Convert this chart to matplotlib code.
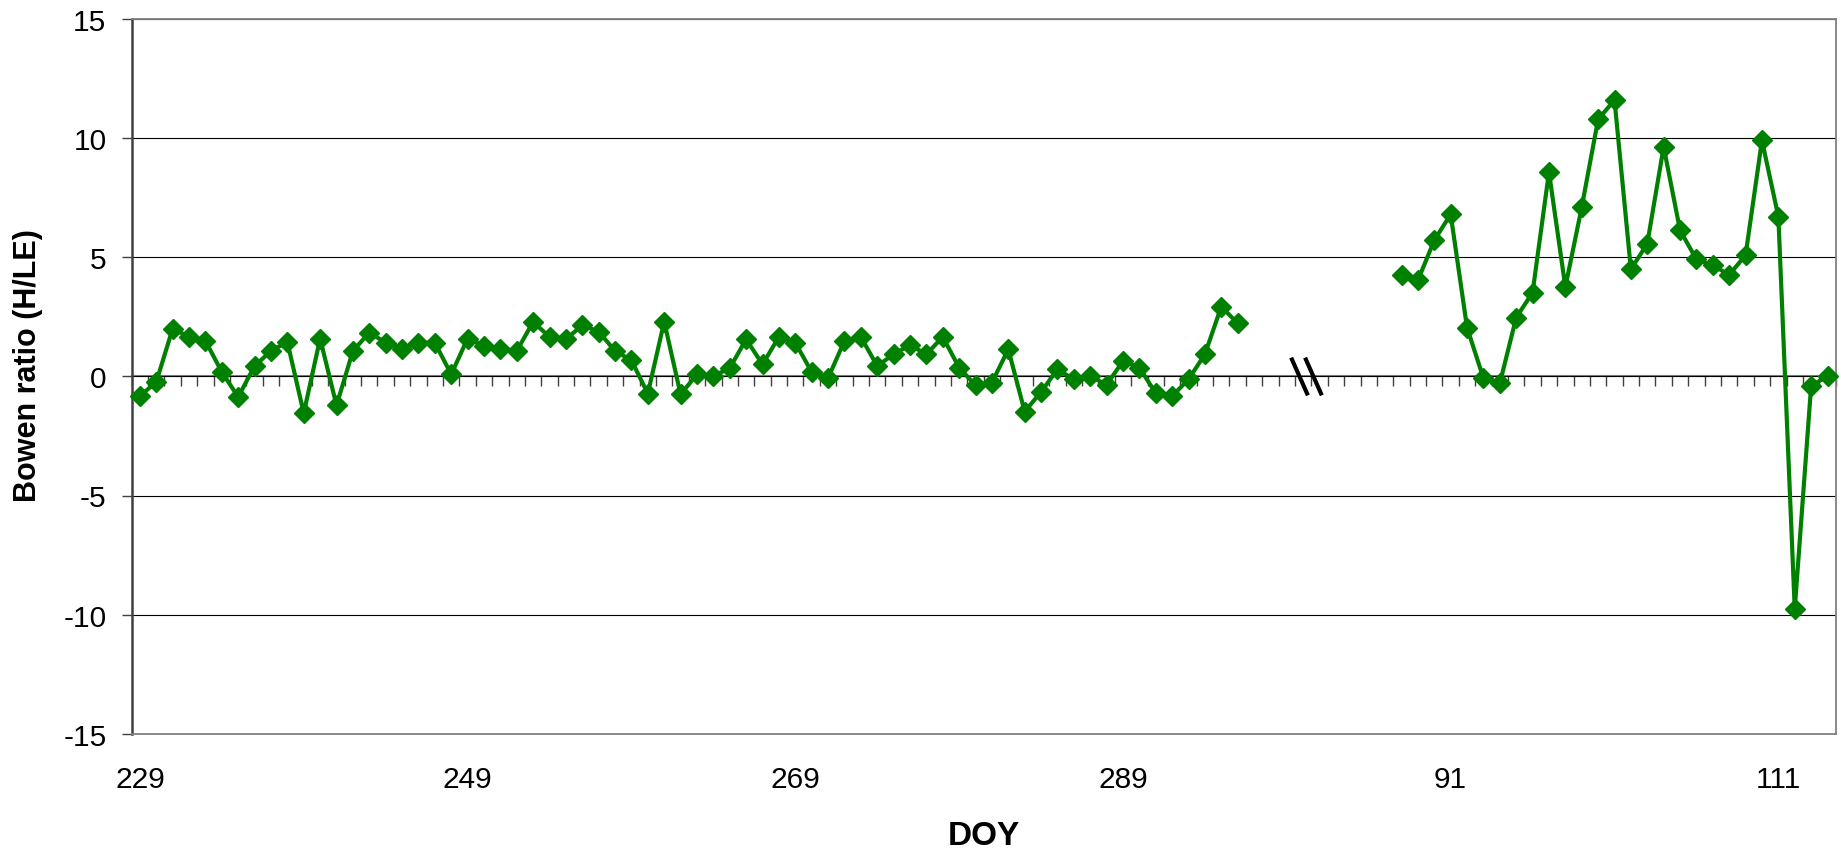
import numpy as np
import matplotlib
matplotlib.use('Agg')
import matplotlib.pyplot as plt

plt.rcParams['font.family'] = ['Liberation Sans', 'DejaVu Sans']
plt.rcParams['axes.unicode_minus'] = False

# daily Bowen ratio, late-season run (DOY 229-296) and the next spring (DOY 88-114)
doy_fall = np.arange(229, 297)
bowen_fall = [-0.83, -0.24, 2.00, 1.65, 1.48, 0.18, -0.87, 0.43, 1.06, 1.44,
              -1.55, 1.58, -1.22, 1.06, 1.83, 1.41, 1.16, 1.41, 1.41, 0.08,
              1.58, 1.27, 1.16, 1.06, 2.28, 1.65, 1.55, 2.14, 1.87, 1.06,
              0.67, -0.73, 2.29, -0.76, 0.08, 0.01, 0.34, 1.55, 0.50, 1.65,
              1.41, 0.18, -0.08, 1.48, 1.65, 0.43, 0.92, 1.31, 0.92, 1.65,
              0.36, -0.38, -0.27, 1.13, -1.48, -0.66, 0.29, -0.13, 0.01, -0.36,
              0.64, 0.36, -0.71, -0.83, -0.13, 0.92, 2.92, 2.22]

doy_spring = np.arange(88, 115)
bowen_spring = [4.25, 4.02, 5.70, 6.79, 2.04, -0.08, -0.30, 2.46, 3.51, 8.56,
                3.74, 7.09, 10.77, 11.58, 4.48, 5.56, 9.62, 6.12, 4.90, 4.65,
                4.25, 5.08, 9.89, 6.69, -9.76, -0.41, 0.01]

n_gap = 9          # empty categories between the two periods
label_every = 20
green = '#008000'

categories = ([str(d) for d in doy_fall] + [''] * n_gap +
              [str(d) for d in doy_spring])
n = len(categories)
x_fall = np.arange(len(doy_fall))
x_spring = np.arange(len(doy_spring)) + len(doy_fall) + n_gap

W, H = 1841, 853
fig = plt.figure(figsize=(W / 100, H / 100), dpi=100)
ax = fig.add_axes([131.7 / W, 1 - 735 / H, (1835.7 - 131.7) / W, (735 - 19.5) / H])

for xs, ys in [(x_fall, bowen_fall), (x_spring, bowen_spring)]:
    ax.plot(xs, ys, color=green, lw=3, marker='D', ms=10.5, mfc=green,
            mec=green, mew=1, zorder=5, clip_on=False)

ax.set_xlim(-0.5, n - 0.5)
ax.set_ylim(-15, 15)
ax.set_yticks(np.arange(-15, 16, 5))
ax.set_axisbelow(True)
ax.yaxis.grid(True, color='black', lw=0.8)

for s in ['top', 'right', 'bottom']:
    ax.spines[s].set_color('#808080')
    ax.spines[s].set_linewidth(1.3)
ax.spines['left'].set_color('#404040')
ax.spines['left'].set_linewidth(1.8)

ax.tick_params(axis='y', direction='out', length=7.2, width=1,
               color='#404040', labelsize=21.5, pad=11)

ticks = np.arange(0, n, label_every)
ax.set_xticks(ticks)
ax.set_xticklabels([categories[i] for i in ticks])
ax.tick_params(axis='x', length=0, labelsize=21.5, pad=22)

# category axis crossing at zero, ticks between categories
sec = ax.secondary_xaxis(0.5)
sec.set_alignment('bottom')
sec.set_xticks(np.arange(n + 1) - 0.5)
sec.tick_params(direction='out', length=7.2, width=1, color='#404040',
                labelbottom=False, labeltop=False)
sec.spines['bottom'].set_color('#808080')
sec.spines['bottom'].set_linewidth(1.5)

# break marks on the axis between the two periods
brk = len(doy_fall) + 3.2
for off in (-0.425, 0.425):
    ax.plot([brk + off - 0.51, brk + off + 0.51], [0.78, -0.80],
            color='black', lw=3, zorder=6, solid_capstyle='butt')

ax.set_ylabel('Bowen ratio (H/LE)', fontsize=22, fontweight='bold')
ax.yaxis.label.set_va('center')
ax.yaxis.set_label_coords(-0.0609, 0.516)

ax.set_xlabel('DOY', fontsize=24, fontweight='bold')
ax.xaxis.label.set_va('center')
ax.xaxis.set_label_coords(0.5, -0.1412)

fig.savefig('out.png', dpi=100)
